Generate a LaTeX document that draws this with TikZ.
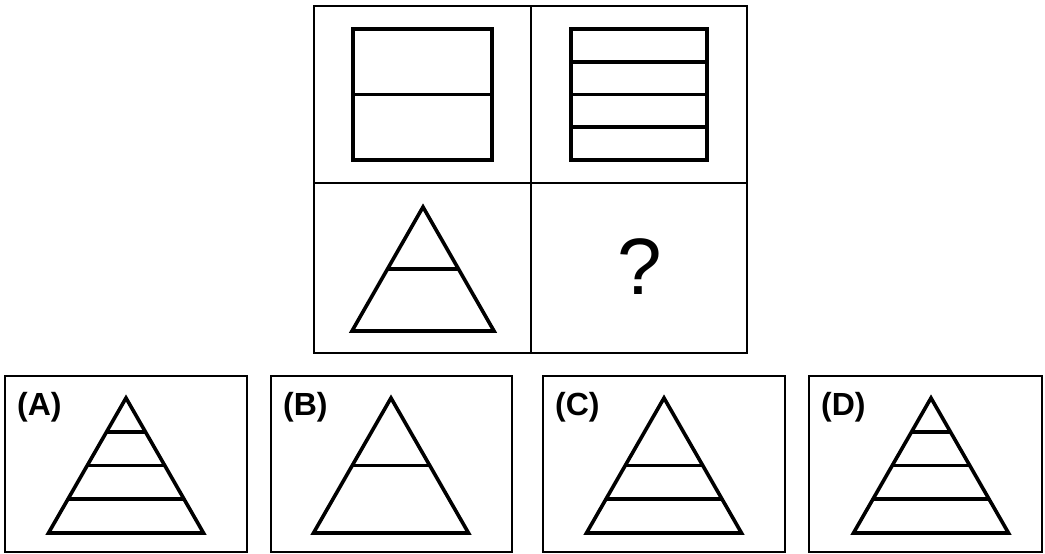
\documentclass[tikz,border=0pt]{standalone}
\usepackage{fontspec}
\setmainfont{Liberation Sans}
\usetikzlibrary{calc}

\begin{document}
\begin{tikzpicture}[x=1pt, y=-1pt,
  frame/.style={draw, line width=1.7pt},
  figure/.style={draw, line width=3.6pt, line join=miter},
  tag/.style={font=\fontsize{32}{32}\selectfont\bfseries, anchor=north west, inner sep=0pt}
]
  \useasboundingbox (0,0) rectangle (1045,554);

  % question grid
  \draw[frame] (314,6) rectangle (747,353);
  \draw[frame] (531,6) -- (531,353);
  \draw[frame] (314,183) -- (747,183);

  % row 1: rectangles
  \draw[figure] (353,29) rectangle (492,160);
  \draw[figure] (353,94.5) -- (492,94.5);
  \draw[figure] (571,29) rectangle (707,160);
  \foreach \y in {61.75,94.5,127.25}
    \draw[figure] (571,\y) -- (707,\y);

  % row 2: triangle and question mark
  \coordinate (top) at (423,207);
  \coordinate (bl) at (352,331);
  \coordinate (br) at (494,331);
  \draw[figure] (top) -- (br) -- (bl) -- cycle;
  \draw[figure] ($(top)!0.5!(bl)$) -- ($(top)!0.5!(br)$);
  \node[font=\fontsize{80}{80}\selectfont, inner sep=0pt] (quest) at (640,267) {?};

  % answer options
  \foreach \name/\xl/\xr/\cx/\cuts in {A/5/247/126/{0.25,0.5,0.75}, B/271/512/391/{0.5}, C/543/785/664/{0.5,0.75}, D/809/1042/931/{0.25,0.5,0.75}} {
    \draw[frame] (\xl,376) rectangle (\xr,552);
    \node[tag] (lab\name) at (\xl+12,392) {(\name)};
    \coordinate (top\name) at (\cx,398);
    \coordinate (bl\name) at (\cx-77.5,533);
    \coordinate (br\name) at (\cx+77.5,533);
    \draw[figure] (top\name) -- (br\name) -- (bl\name) -- cycle;
    \foreach \t in \cuts
      \draw[figure] ($(top\name)!\t!(bl\name)$) -- ($(top\name)!\t!(br\name)$);
  }
\end{tikzpicture}
\end{document}
